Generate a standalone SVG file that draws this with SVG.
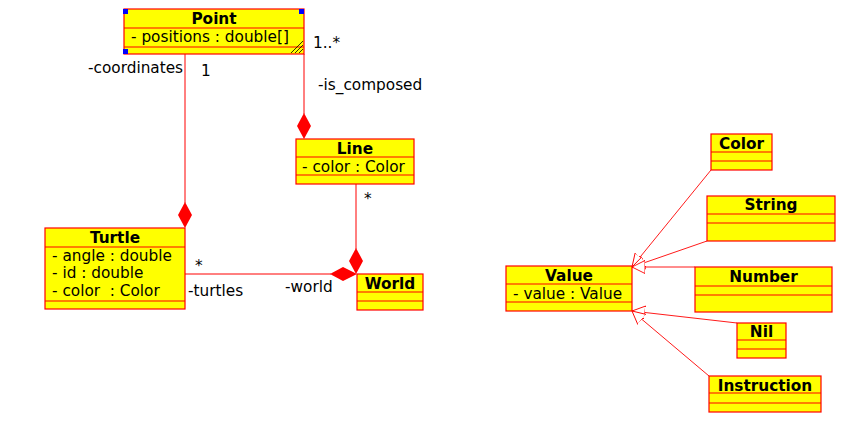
<svg xmlns="http://www.w3.org/2000/svg" width="858" height="436" viewBox="0 0 858 436">
<defs>
<style>
.box{fill:#ffff00;stroke:#ff0000;stroke-width:1.2}
.sep{stroke:#ff0000;stroke-width:1.2}
.t{font-family:"DejaVu Sans",sans-serif;font-size:15.3px;font-weight:bold;fill:#000;text-anchor:middle}
.a{font-family:"DejaVu Sans",sans-serif;font-size:15.3px;fill:#000}
.l{font-family:"DejaVu Sans",sans-serif;font-size:15.3px;fill:#000}
.c{stroke:#ff0000;stroke-width:1;fill:none}
.d{fill:#ff0000;stroke:none}
.g{stroke:#ff0000;stroke-width:0.9;fill:none}
</style>
<marker id="tri" viewBox="0 0 14 14" refX="13" refY="7" markerWidth="14" markerHeight="14" markerUnits="userSpaceOnUse" orient="auto">
<path d="M13,7 L0,0.5 L0,13.5 Z" fill="#fff" stroke="#ff0000" stroke-width="0.9"/>
</marker>
</defs>
<rect width="858" height="436" fill="#fff"/>

<g id="connectors">
<path class="c" d="M185,54 V203"/>
<path class="d" d="M185,202 L192,215 L185,228 L178,215 Z"/>
<path class="c" d="M304,54 V114"/>
<path class="d" d="M304,113 L311,126 L304,139 L297,126 Z"/>
<path class="c" d="M356,184 V249"/>
<path class="d" d="M356,248 L363,261 L356,274 L349,261 Z"/>
<path class="c" d="M185,274 H331"/>
<path class="d" d="M330,274 L343,267 L357,274 L343,281 Z"/>
<line class="g" x1="711" y1="170" x2="632" y2="267" marker-end="url(#tri)"/>
<line class="g" x1="707" y1="241" x2="632" y2="267" marker-end="url(#tri)"/>
<line class="g" x1="695" y1="267" x2="632" y2="267" marker-end="url(#tri)"/>
<line class="g" x1="737" y1="323" x2="632" y2="311" marker-end="url(#tri)"/>
<line class="g" x1="709" y1="376" x2="632" y2="311" marker-end="url(#tri)"/>
<text class="l" x="88" y="73">-coordinates</text>
<text class="l" x="201" y="76">1</text>
<text class="l" x="313" y="48">1..*</text>
<text class="l" x="318" y="90">-is_composed</text>
<text class="l" x="364" y="204">*</text>
<text class="l" x="195" y="271">*</text>
<text class="l" x="188" y="296">-turtles</text>
<text class="l" x="285" y="292">-world</text>
</g>

<g id="Point">
<rect class="box" x="124" y="9" width="180" height="45"/>
<line class="sep" x1="124" y1="28" x2="304" y2="28"/>
<line class="sep" x1="124" y1="47" x2="304" y2="47"/>
<text class="t" x="214" y="24">Point</text>
<text class="a" x="131" y="42">- positions : double[]</text>
<rect x="123" y="9" width="5" height="5" fill="#0000ff"/>
<rect x="299" y="9" width="5" height="5" fill="#0000ff"/>
<rect x="123" y="49" width="5" height="5" fill="#0000ff"/>
<path d="M291,53 L303,41 M295,53 L303,45 M299,53 L303,49" stroke="#000" stroke-width="0.8"/>
</g>

<g id="Line">
<rect class="box" x="296" y="139" width="118" height="45"/>
<line class="sep" x1="296" y1="157" x2="414" y2="157"/>
<line class="sep" x1="296" y1="175" x2="414" y2="175"/>
<text class="t" x="355" y="154">Line</text>
<text class="a" x="302" y="172">- color : Color</text>
</g>

<g id="Turtle">
<rect class="box" x="45" y="228" width="140" height="81"/>
<line class="sep" x1="45" y1="247" x2="185" y2="247"/>
<line class="sep" x1="45" y1="301" x2="185" y2="301"/>
<text class="t" x="115" y="243">Turtle</text>
<text class="a" x="52" y="261">- angle : double</text>
<text class="a" x="52" y="278">- id : double</text>
<text class="a" x="52" y="296" xml:space="preserve">- color  : Color</text>
</g>

<g id="World">
<rect class="box" x="357" y="274" width="66" height="36"/>
<line class="sep" x1="357" y1="292" x2="423" y2="292"/>
<line class="sep" x1="357" y1="301" x2="423" y2="301"/>
<text class="t" x="390" y="289">World</text>
</g>

<g id="Value">
<rect class="box" x="506" y="266" width="126" height="45"/>
<line class="sep" x1="506" y1="284" x2="632" y2="284"/>
<line class="sep" x1="506" y1="302" x2="632" y2="302"/>
<text class="t" x="569" y="281">Value</text>
<text class="a" x="513" y="299">- value : Value</text>
</g>

<g id="Color">
<rect class="box" x="711" y="134" width="61" height="36"/>
<line class="sep" x1="711" y1="152" x2="772" y2="152"/>
<line class="sep" x1="711" y1="161" x2="772" y2="161"/>
<text class="t" x="741.5" y="149">Color</text>
</g>

<g id="String">
<rect class="box" x="707" y="196" width="128" height="45"/>
<line class="sep" x1="707" y1="214" x2="835" y2="214"/>
<line class="sep" x1="707" y1="223" x2="835" y2="223"/>
<text class="t" x="771" y="210">String</text>
</g>

<g id="Number">
<rect class="box" x="695" y="267" width="137" height="45"/>
<line class="sep" x1="695" y1="286" x2="832" y2="286"/>
<line class="sep" x1="695" y1="295" x2="832" y2="295"/>
<text class="t" x="763.5" y="282">Number</text>
</g>

<g id="Nil">
<rect class="box" x="737" y="323" width="49" height="35"/>
<line class="sep" x1="737" y1="340" x2="786" y2="340"/>
<line class="sep" x1="737" y1="349" x2="786" y2="349"/>
<text class="t" x="761.5" y="337">Nil</text>
</g>

<g id="Instruction">
<rect class="box" x="709" y="376" width="112" height="36"/>
<line class="sep" x1="709" y1="393" x2="821" y2="393"/>
<line class="sep" x1="709" y1="403" x2="821" y2="403"/>
<text class="t" x="765" y="391">Instruction</text>
</g>
</svg>
